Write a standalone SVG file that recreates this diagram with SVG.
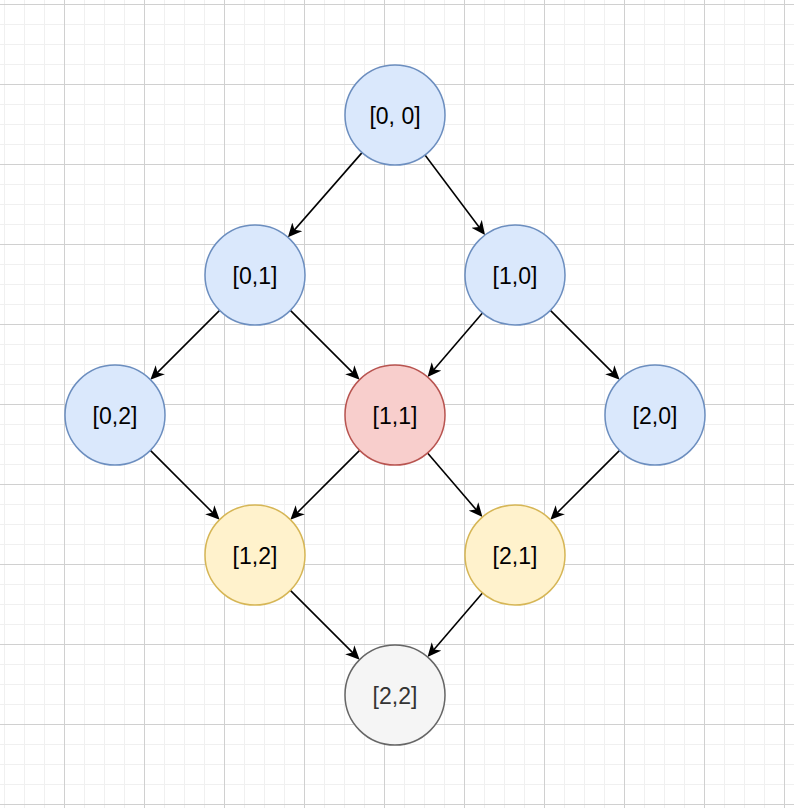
<svg xmlns="http://www.w3.org/2000/svg" width="794" height="808" viewBox="0 0 794 808">
<defs>
<pattern id="minor" x="4" y="4" width="20" height="20" patternUnits="userSpaceOnUse">
<path d="M0,0.5 H20 M0.5,0 V20" fill="none" stroke="#f0f0f0" stroke-width="1"/>
</pattern>
<pattern id="major" x="64" y="4" width="80" height="80" patternUnits="userSpaceOnUse">
<path d="M0,0.5 H80 M0.5,0 V80" fill="none" stroke="#d0d0d0" stroke-width="1"/>
</pattern>
<marker id="arr" viewBox="0 0 14 14" refX="9" refY="7" markerWidth="14" markerHeight="14" markerUnits="userSpaceOnUse" orient="auto">
<path d="M0,0.5 L14,7 L0,13.5 L4,7 Z" fill="#000"/>
</marker>
<style>
.n circle{stroke-width:1.5}
.blue circle{fill:#dae8fc;stroke:#6c8ebf}
.red circle{fill:#f8cecc;stroke:#b85450}
.yel circle{fill:#fff2cc;stroke:#d6b656}
.gray circle{fill:#f5f5f5;stroke:#666666}
.n text{font-family:"Liberation Sans",Arial,sans-serif;font-size:23px;text-anchor:middle;fill:#000}
.gray text{fill:#333333}
.e line{stroke:#000;stroke-width:1.6;marker-end:url(#arr)}
</style>
</defs>
<rect width="794" height="808" fill="#fff"/>
<rect width="794" height="808" fill="url(#minor)"/>
<rect width="794" height="808" fill="url(#major)"/>
<g id="edges" class="e">
<line x1="362.07" y1="152.63" x2="291.22" y2="233.61"/>
<line x1="425" y1="155" x2="482" y2="231"/>
<line x1="219.64" y1="310.36" x2="153.89" y2="376.11"/>
<line x1="290.36" y1="310.36" x2="356.11" y2="376.11"/>
<line x1="482.46" y1="312.96" x2="430.8" y2="373.2"/>
<line x1="550.36" y1="310.36" x2="616.11" y2="376.11"/>
<line x1="150.36" y1="450.36" x2="216.11" y2="516.11"/>
<line x1="359.64" y1="450.36" x2="293.89" y2="516.11"/>
<line x1="427.54" y1="452.96" x2="479.2" y2="513.2"/>
<line x1="619.64" y1="450.36" x2="553.89" y2="516.11"/>
<line x1="290.36" y1="590.36" x2="356.11" y2="656.11"/>
<line x1="482.46" y1="592.96" x2="430.8" y2="653.2"/>
</g>
<g id="n00" class="n blue"><circle cx="395" cy="115" r="50"/><text x="395" y="123.5">[0, 0]</text></g>
<g id="n01" class="n blue"><circle cx="255" cy="275" r="50"/><text x="255" y="283.5">[0,1]</text></g>
<g id="n10" class="n blue"><circle cx="515" cy="275" r="50"/><text x="515" y="283.5">[1,0]</text></g>
<g id="n02" class="n blue"><circle cx="115" cy="415" r="50"/><text x="115" y="423.5">[0,2]</text></g>
<g id="n11" class="n red"><circle cx="395" cy="415" r="50"/><text x="395" y="423.5">[1,1]</text></g>
<g id="n20" class="n blue"><circle cx="655" cy="415" r="50"/><text x="655" y="423.5">[2,0]</text></g>
<g id="n12" class="n yel"><circle cx="255" cy="555" r="50"/><text x="255" y="563.5">[1,2]</text></g>
<g id="n21" class="n yel"><circle cx="515" cy="555" r="50"/><text x="515" y="563.5">[2,1]</text></g>
<g id="n22" class="n gray"><circle cx="395" cy="695" r="50"/><text x="395" y="703.5">[2,2]</text></g>
</svg>
